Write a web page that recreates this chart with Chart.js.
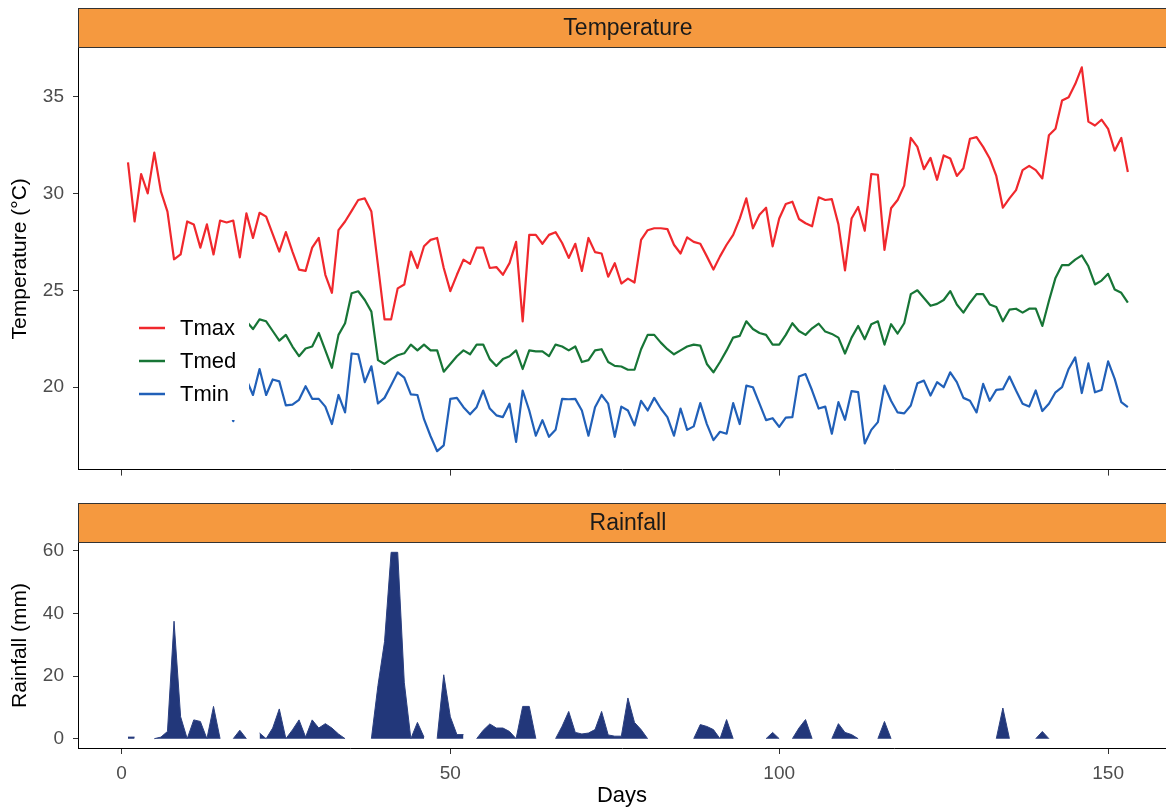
<!DOCTYPE html>
<html>
<head>
<meta charset="utf-8">
<script src="https://cdn.jsdelivr.net/npm/chart.js@4.4.0/dist/chart.umd.min.js"></script>
<style>
  body { margin: 0; background: #fff; }
  #wrap { position: relative; width: 1166px; height: 809px; overflow: hidden; }
  #tempChart { position: absolute; left: 0; top: 0; }
  #rainChart { position: absolute; left: 0; top: 490px; }
</style>
</head>
<body>
<div id="wrap">
  <canvas id="tempChart" width="1166" height="490"></canvas>
  <canvas id="rainChart" width="1166" height="319"></canvas>
</div>
<script>
// days of the season (x axis)
const days = Array.from({ length: 153 }, (_, i) => i + 1);

const xTicks = [0, 50, 100, 150];
const tempTicks = [20, 25, 30, 35];
const rainTicks = [0, 20, 40, 60];

// daily temperatures, °C
const tmax = [
  31.6, 28.55, 31.0, 30.0, 32.1, 30.1, 29.06, 26.6, 26.85, 28.55,
  28.4, 27.2, 28.4, 26.85, 28.6, 28.5, 28.6, 26.7, 28.97, 27.7,
  29.0, 28.8, 27.9, 27.0, 28.0, 27.0, 26.07, 26.0, 27.2, 27.7,
  25.8, 24.87, 28.1, 28.55, 29.1, 29.66, 29.74, 29.06, 26.3, 23.5,
  23.5, 25.1, 25.3, 27.0, 26.15, 27.27, 27.6, 27.7, 26.15, 24.96,
  25.8, 26.58, 26.36, 27.2, 27.2, 26.15, 26.2, 25.8, 26.4, 27.5,
  23.4, 27.86, 27.86, 27.4, 27.86, 28.0, 27.44, 26.67, 27.4, 26.0,
  27.7, 26.97, 26.9, 25.7, 26.4, 25.35, 25.6, 25.4, 27.6, 28.1,
  28.2, 28.2, 28.16, 27.35, 26.9, 27.73, 27.5, 27.4, 26.75, 26.07,
  26.75, 27.35, 27.86, 28.7, 29.74, 28.2, 28.9, 29.26, 27.27, 28.7,
  29.45, 29.57, 28.68, 28.46, 28.3, 29.8, 29.66, 29.7, 28.4, 26.03,
  28.7, 29.3, 28.07, 31.0, 30.96, 27.09, 29.23, 29.66, 30.4, 32.86,
  32.4, 31.25, 31.83, 30.7, 31.96, 31.8, 30.9, 31.3, 32.82, 32.9,
  32.4, 31.8, 30.9, 29.26, 29.74, 30.17, 31.2, 31.42, 31.2, 30.77,
  33.0, 33.33, 34.79, 34.96, 35.64, 36.5, 33.7, 33.5, 33.8, 33.33,
  32.2, 32.86, 31.1
];

// early days sit behind the legend box
const tmed = [
  null, null, null, null, null, null, null, null, null, null,
  null, null, null, null, null, null, null, null, 23.4,
  23.0, 23.5, 23.4, 22.9, 22.4, 22.7, 22.1, 21.6, 22.0, 22.1,
  22.8, 21.9, 21.0, 22.7, 23.3, 24.85, 24.95, 24.5, 23.9, 21.4,
  21.2, 21.45, 21.65, 21.75, 22.2, 21.9, 22.2, 21.9, 21.9, 20.8,
  21.2, 21.6, 21.9, 21.7, 22.2, 22.2, 21.45, 21.1, 21.45, 21.6,
  21.9, 20.94, 21.9, 21.85, 21.85, 21.6, 22.2, 22.1, 21.9, 22.1,
  21.3, 21.4, 21.9, 21.96, 21.3, 21.1, 21.07, 20.9, 20.9, 21.96,
  22.7, 22.7, 22.3, 21.96, 21.7, 21.9, 22.1, 22.2, 22.15, 21.2,
  20.77, 21.3, 21.9, 22.56, 22.65, 23.4, 23.0, 22.8, 22.7, 22.2,
  22.2, 22.7, 23.3, 22.9, 22.7, 23.04, 23.28, 22.87, 22.75, 22.56,
  21.74, 22.56, 23.16, 22.48, 23.25, 23.4, 22.2, 23.25, 22.77, 23.3,
  24.8, 25.0, 24.6, 24.2, 24.3, 24.5, 24.96, 24.27, 23.85, 24.36,
  24.8, 24.8, 24.27, 24.14, 23.4, 24.0, 24.05, 23.85, 24.05, 24.05,
  23.16, 24.45, 25.64, 26.3, 26.3, 26.58, 26.8, 26.24, 25.3, 25.5,
  25.85, 25.04, 24.87, 24.36
];

const tmin = [
  null, null, null, null, null, null, null, null, null, null,
  null, null, null, null, null, 19.3, 18.25, 19.6, 20.4,
  19.6, 20.94, 19.6, 20.4, 20.3, 19.06, 19.1, 19.35, 20.05, 19.4,
  19.4, 19.0, 18.1, 19.6, 18.7, 21.74, 21.7, 20.26, 21.08, 19.16,
  19.45, 20.1, 20.77, 20.5, 19.63, 19.6, 18.35, 17.47, 16.7, 17.0,
  19.4, 19.45, 18.97, 18.6, 18.97, 19.83, 18.9, 18.55, 18.46, 19.15,
  17.18, 19.83, 18.8, 17.5, 18.3, 17.44, 17.8, 19.4, 19.38, 19.4,
  18.8, 17.5, 18.97, 19.6, 19.15, 17.44, 19.0, 18.8, 18.03, 19.3,
  18.8, 19.45, 18.9, 18.46, 17.5, 18.9, 17.8, 17.98, 19.18, 18.1,
  17.27, 17.7, 17.6, 19.18, 18.1, 20.08, 20.0, 19.15, 18.3, 18.4,
  17.95, 18.43, 18.46, 20.55, 20.68, 19.83, 18.9, 19.0, 17.6, 19.23,
  18.32, 19.8, 19.75, 17.1, 17.8, 18.2, 20.08, 19.3, 18.7, 18.65,
  19.06, 20.2, 20.34, 19.57, 20.26, 20.0, 20.77, 20.26, 19.45, 19.3,
  18.7, 20.17, 19.3, 19.86, 19.9, 20.55, 19.83, 19.15, 19.0, 19.83,
  18.77, 19.15, 19.74, 20.0, 20.94, 21.54, 19.7, 21.23, 19.74, 19.86,
  21.33, 20.43, 19.23, 18.97
];

// daily rainfall, mm (null = no record)
const rain = [
  0.5, 0.5, null, null, 0, 0.5, 2.3, 37.5, 7, 0,
  6, 5.5, 0, 10.3, 0, null, 0, 2.7, 0, null,
  1.8, 0, 3.4, 9.5, 0, 2.8, 6.0, 0.5, 6.0, 3.4,
  4.8, 3.4, 1.5, 0, null, null, null, 0, 17, 31,
  59.5, 59.5, 18, 0, 5.2, 0.5, null, 0, 20.4, 7,
  1.3, 1.3, null, 0, 2.7, 4.7, 3.4, 3.4, 2.3, 0,
  10.3, 10.3, 0, null, null, 0, 4, 8.7, 2.0, 1.5,
  1.8, 2.9, 8.7, 1.2, 0.8, 0.8, 13, 5.2, 2.9, 0,
  null, null, null, null, null, null, 0, 4.5, 3.9, 2.9,
  0, 6.1, 0, null, null, null, null, 0, 2.0, 0,
  null, 0, 3.4, 6.1, 0, null, null, 0, 4.8, 2.0,
  1.3, 0, null, null, 0, 5.5, 0, null, null, null,
  null, null, null, null, null, null, null, null, null, null,
  null, null, 0, 9.8, 0, null, null, null, 0, 2.3,
  0, null, null, null, null, null, null, null, null, null,
  null, null, null
];

const xMin = -6.6, xMax = 158.8, xFullMax = 160.6;
const fontFam = '"Liberation Sans", Arial, sans-serif';
Chart.defaults.font.family = fontFam;
Chart.defaults.animation = false;

function pts(vals) {
  return days.map((d, i) => ({ x: d, y: vals[i] }));
}

// orange facet strip above each panel
const stripPlugin = {
  id: 'strip',
  afterDraw(chart, args, opts) {
    const { ctx, chartArea } = chart;
    const h = 40;
    const w = chartArea.right - chartArea.left;
    ctx.save();
    ctx.fillStyle = '#F5993F';
    ctx.fillRect(chartArea.left, chartArea.top - h, w, h);
    ctx.strokeStyle = '#333';
    ctx.lineWidth = 1;
    ctx.strokeRect(chartArea.left + 0.5, chartArea.top - h + 0.5, w, h - 1);
    ctx.fillStyle = '#1a1a1a';
    ctx.font = '23px ' + fontFam;
    ctx.textAlign = 'center';
    ctx.textBaseline = 'middle';
    const mid = chart.scales.x.getPixelForValue((xMin + xFullMax) / 2);
    ctx.fillText(opts.text, mid, chartArea.top - h / 2 + 1);
    ctx.restore();
  }
};

// legend drawn inside the panel on a white box
const insideLegend = {
  id: 'insideLegend',
  afterDatasetsDraw(chart) {
    const { ctx, chartArea } = chart;
    const x0 = chartArea.left + 52, y0 = chartArea.top + 262;
    ctx.save();
    ctx.fillStyle = '#fff';
    ctx.fillRect(x0, y0, 119, 110);
    chart.data.datasets.forEach((ds, i) => {
      const y = y0 + 18 + i * 33;
      ctx.strokeStyle = ds.borderColor;
      ctx.lineWidth = 2.5;
      ctx.beginPath();
      ctx.moveTo(x0 + 9, y);
      ctx.lineTo(x0 + 35, y);
      ctx.stroke();
      ctx.fillStyle = '#000';
      ctx.font = '22px ' + fontFam;
      ctx.textBaseline = 'middle';
      ctx.fillText(ds.label, x0 + 50, y + 1);
    });
    ctx.restore();
  }
};

function xScale(showLabels) {
  return {
    type: 'linear',
    min: xMin,
    max: xMax,
    afterBuildTicks: s => { s.ticks = xTicks.map(v => ({ value: v })); },
    ticks: { display: showLabels, color: '#4d4d4d', font: { size: 19 }, padding: 8, maxRotation: 0 },
    grid: { drawOnChartArea: false, drawTicks: true, tickLength: 6, color: '#333' },
    border: { color: '#000', width: 1 },
    title: { display: showLabels, text: 'Days', color: '#000', font: { size: 22 }, padding: { top: 0, bottom: 0 } },
    afterFit: s => { s.height = showLabels ? 61 : 18; }
  };
}

function yScale(min, max, tickVals, label) {
  return {
    min: min,
    max: max,
    afterBuildTicks: s => { s.ticks = tickVals.map(v => ({ value: v })); },
    ticks: { color: '#4d4d4d', font: { size: 19 }, padding: 9 },
    grid: { drawOnChartArea: false, drawTicks: true, tickLength: 5, color: '#333' },
    border: { color: '#000', width: 1 },
    title: { display: true, text: label, color: '#000', font: { size: 21 }, padding: { top: 8, bottom: 0 } },
    afterFit: s => { s.width = 78; }
  };
}

const lineStyle = { pointRadius: 0, borderWidth: 2.2, tension: 0, spanGaps: false, borderJoinStyle: 'round', fill: false };

new Chart(document.getElementById('tempChart'), {
  type: 'line',
  data: {
    datasets: [
      Object.assign({ label: 'Tmax', data: pts(tmax), borderColor: '#F0282D' }, lineStyle),
      Object.assign({ label: 'Tmed', data: pts(tmed), borderColor: '#177536' }, lineStyle),
      Object.assign({ label: 'Tmin', data: pts(tmin), borderColor: '#2160B8' }, lineStyle)
    ]
  },
  options: {
    responsive: false,
    layout: { padding: { top: 48, right: 0, bottom: 0, left: 0 } },
    plugins: { legend: { display: false }, tooltip: { enabled: false }, strip: { text: 'Temperature' } },
    scales: {
      x: xScale(false),
      y: yScale(15.75, 37.5, tempTicks, 'Temperature (°C)')
    }
  },
  plugins: [insideLegend, stripPlugin]
});

new Chart(document.getElementById('rainChart'), {
  type: 'line',
  data: {
    datasets: [{
      label: 'Rainfall',
      data: pts(rain),
      borderColor: '#2a3f80',
      backgroundColor: '#22377a',
      borderWidth: 1,
      pointRadius: 0,
      tension: 0,
      spanGaps: false,
      fill: 'origin'
    }]
  },
  options: {
    responsive: false,
    layout: { padding: { top: 53, right: 0, bottom: 0, left: 0 } },
    plugins: { legend: { display: false }, tooltip: { enabled: false }, strip: { text: 'Rainfall' } },
    scales: {
      x: xScale(true),
      y: yScale(-2.975, 62.475, rainTicks, 'Rainfall (mm)')
    }
  },
  plugins: [stripPlugin]
});
</script>
</body>
</html>
